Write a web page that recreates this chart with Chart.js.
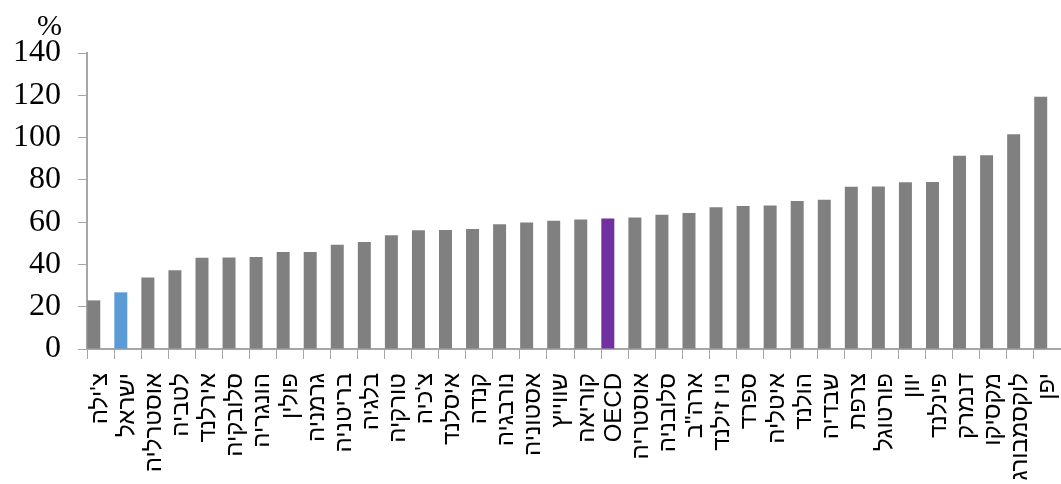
<!DOCTYPE html>
<html>
<head>
<meta charset="utf-8">
<script src="https://cdn.jsdelivr.net/npm/chart.js@4/dist/chart.umd.min.js"></script>
<style>
    html, body { margin: 0; padding: 0; background: #fff; }
    #wrap { width: 1061px; height: 484px; }
</style>
</head>
<body>
<div id="wrap"><canvas id="debtChart"></canvas></div>
<script>
const countries = [
    "צ'ילה", 'ישראל', 'אוסטרליה', 'לטביה', 'אירלנד', 'סלובקיה', 'הונגריה', 'פולין', 'גרמניה',
    'בריטניה', 'בלגיה', 'טורקיה', "צ'כיה", 'איסלנד', 'קנדה', 'נורבגיה', 'אסטוניה', 'שווייץ',
    'קוריאה', 'OECD', 'אוסטריה', 'סלובניה', 'ארה"ב', 'ניו זילנד', 'ספרד', 'איטליה', 'הולנד',
    'שבדיה', 'צרפת', 'פורטוגל', 'יוון', 'פינלנד', 'דנמרק', 'מקסיקו', 'לוקסמבורג', 'יפן'
];

const values = [
    23.0, 26.8, 33.8, 37.3, 43.2, 43.3, 43.5, 45.9, 45.9,
    49.3, 50.6, 53.8, 56.2, 56.3, 56.7, 59.0, 59.8, 60.6,
    61.3, 61.7, 62.2, 63.5, 64.3, 67.0, 67.6, 67.9, 70.0,
    70.6, 76.7, 76.8, 78.9, 79.0, 91.4, 91.6, 101.6, 119.3
];

const yTicks = [0, 20, 40, 60, 80, 100, 120, 140];

// Israel in blue, the OECD average in purple, everyone else grey
const barColors = countries.map(c => {
    if (c === 'ישראל') return '#5B9BD5';
    if (c === 'OECD') return '#7030A0';
    return '#808080';
});

const axisColor = '#A6A6A6';

// "%" unit label above the value axis
const unitLabel = {
    id: 'unitLabel',
    afterDraw(chart) {
        const ctx = chart.ctx;
        const y = chart.scales.y;
        ctx.save();
        ctx.font = '30px "Liberation Serif"';
        ctx.fillStyle = '#000';
        ctx.textAlign = 'right';
        ctx.textBaseline = 'bottom';
        ctx.fillText('%', y.right - 25, y.top - 11);
        ctx.restore();
    }
};

new Chart(document.getElementById('debtChart'), {
    type: 'bar',
    data: {
        labels: countries,
        datasets: [{
            data: values,
            backgroundColor: barColors,
            borderWidth: 0,
            barPercentage: 0.96,
            categoryPercentage: 1
        }, {
            // empty second series keeps the bars in the left half of each slot
            data: [],
            barPercentage: 0.96,
            categoryPercentage: 1
        }]
    },
    options: {
        responsive: true,
        maintainAspectRatio: false,
        animation: false,
        layout: { padding: { top: 53, right: 0, bottom: 0, left: 0 } },
        plugins: {
            legend: { display: false },
            tooltip: { enabled: false }
        },
        scales: {
            x: {
                grid: {
                    offset: true,
                    drawOnChartArea: false,
                    tickLength: 10,
                    color: axisColor,
                    lineWidth: 1
                },
                border: { color: axisColor, width: 2 },
                ticks: {
                    autoSkip: false,
                    minRotation: 90,
                    maxRotation: 90,
                    padding: 14,
                    color: '#000',
                    font: { family: '"Liberation Sans"', size: 24 }
                },
                afterFit(scale) {
                    scale.height = 135;
                    scale.paddingLeft = 0;
                    scale.paddingRight = 0;
                }
            },
            y: {
                min: 0,
                max: 140,
                afterBuildTicks(scale) {
                    scale.ticks = yTicks.map(v => ({ value: v }));
                },
                grid: {
                    drawOnChartArea: false,
                    tickLength: 9,
                    color: axisColor,
                    lineWidth: 1
                },
                border: { color: axisColor, width: 2 },
                ticks: {
                    padding: 17,
                    color: '#000',
                    font: { family: '"Liberation Serif"', size: 32 }
                },
                afterFit(scale) {
                    scale.width = 87;
                    scale.paddingTop = 0;
                    scale.paddingBottom = 0;
                }
            }
        }
    },
    plugins: [unitLabel]
});
</script>
</body>
</html>
